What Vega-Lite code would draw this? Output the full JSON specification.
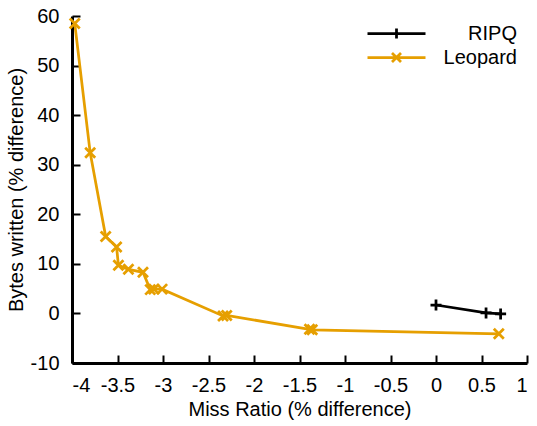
{
  "$schema": "https://vega.github.io/schema/vega-lite/v6.json",
  "width": 455,
  "height": 347,
  "autosize": "none",
  "padding": {"left": 72, "top": 16, "right": 10, "bottom": 63},
  "config": {
    "view": {"stroke": null},
    "font": "Liberation Sans",
    "axis": {
      "grid": false,
      "domainColor": "black",
      "domainWidth": 3,
      "tickColor": "black",
      "tickWidth": 2,
      "tickSize": -8,
      "labelFontSize": 20,
      "labelColor": "black",
      "titleFontSize": 20,
      "titleFontWeight": "normal",
      "titleColor": "black"
    }
  },
  "data": {
    "values": [
      {"series": "RIPQ", "x": 0.0, "y": 1.7},
      {"series": "RIPQ", "x": 0.55, "y": 0.1},
      {"series": "RIPQ", "x": 0.71, "y": -0.1},
      {"series": "Leopard", "x": -3.97, "y": 58.5},
      {"series": "Leopard", "x": -3.8, "y": 32.4},
      {"series": "Leopard", "x": -3.63, "y": 15.5},
      {"series": "Leopard", "x": -3.51, "y": 13.4},
      {"series": "Leopard", "x": -3.49, "y": 9.7},
      {"series": "Leopard", "x": -3.38, "y": 8.9},
      {"series": "Leopard", "x": -3.22, "y": 8.3},
      {"series": "Leopard", "x": -3.14, "y": 4.8},
      {"series": "Leopard", "x": -3.1, "y": 4.9},
      {"series": "Leopard", "x": -3.01, "y": 4.9},
      {"series": "Leopard", "x": -2.34, "y": -0.5},
      {"series": "Leopard", "x": -2.3, "y": -0.4},
      {"series": "Leopard", "x": -1.39, "y": -3.2},
      {"series": "Leopard", "x": -1.36, "y": -3.3},
      {"series": "Leopard", "x": 0.69, "y": -4.1}
    ]
  },
  "encoding": {
    "x": {
      "field": "x",
      "type": "quantitative",
      "scale": {"domain": [-4, 1], "nice": false, "zero": false},
      "axis": {
        "title": "Miss Ratio (% difference)",
        "values": [-4, -3.5, -3, -2.5, -2, -1.5, -1, -0.5, 0, 0.5, 1],
        "labelExpr": "'' + datum.value",
        "labelPadding": 20,
        "titlePadding": 4
      }
    },
    "y": {
      "field": "y",
      "type": "quantitative",
      "scale": {"domain": [-10, 60], "nice": false, "zero": false},
      "axis": {
        "title": "Bytes written (% difference)",
        "values": [-10, 0, 10, 20, 30, 40, 50, 60],
        "labelExpr": "'' + datum.value",
        "labelPadding": 21,
        "titlePadding": 4
      }
    },
    "color": {
      "field": "series",
      "type": "nominal",
      "scale": {"domain": ["RIPQ", "Leopard"], "range": ["#000000", "#E69F00"]},
      "legend": {
        "orient": "none",
        "legendX": 313,
        "legendY": 6,
        "title": null,
        "padding": 0,
        "rowPadding": 2,
        "symbolSize": 400,
        "symbolStrokeWidth": 2.75,
        "symbolFillColor": "transparent",
        "labelAlign": "right",
        "labelOffset": 109,
        "labelFontSize": 20,
        "labelColor": "black",
        "labelFont": "Liberation Sans",
        "encode": {
          "symbols": {
            "update": {
              "shape": {"signal": "datum.value === 'RIPQ' ? 'M-2.9,0H2.9M0,-0.5V0.5' : 'M-2.9,0H2.9M-0.45,-0.45L0.45,0.45M0.45,-0.45L-0.45,0.45'"}
            }
          }
        }
      }
    }
  },
  "layer": [
    {"mark": {"type": "line", "strokeWidth": 2.75}},
    {
      "transform": [{"filter": "datum.series === 'RIPQ'"}],
      "mark": {"type": "point", "shape": "M-1,0H1M0,-1V1", "size": 121, "filled": false, "strokeWidth": 2.75, "opacity": 1}
    },
    {
      "transform": [{"filter": "datum.series === 'Leopard'"}],
      "mark": {"type": "point", "shape": "M-1,-1L1,1M1,-1L-1,1", "size": 100, "filled": false, "strokeWidth": 2.75, "opacity": 1}
    }
  ]
}
